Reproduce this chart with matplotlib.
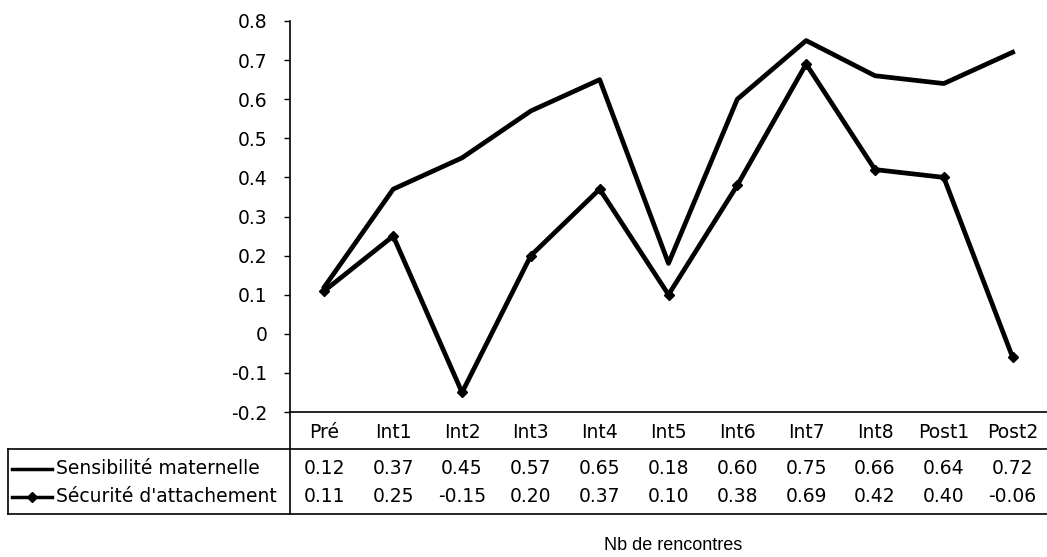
import matplotlib
matplotlib.use("Agg")
import matplotlib.pyplot as plt
from matplotlib.lines import Line2D
from matplotlib.transforms import blended_transform_factory

categories = ["Pré", "Int1", "Int2", "Int3", "Int4", "Int5", "Int6", "Int7", "Int8", "Post1", "Post2"]
sensibilite = [0.12, 0.37, 0.45, 0.57, 0.65, 0.18, 0.60, 0.75, 0.66, 0.64, 0.72]
securite = [0.11, 0.25, -0.15, 0.20, 0.37, 0.10, 0.38, 0.69, 0.42, 0.40, -0.06]
series_names = ["Sensibilité maternelle", "Sécurité d'attachement"]
y_ticks = [-0.2, -0.1, 0, 0.1, 0.2, 0.3, 0.4, 0.5, 0.6, 0.7, 0.8]

W, H = 1047, 557
FS = 13.5
fig = plt.figure(figsize=(W / 100, H / 100), dpi=100)
plt.rcParams['font.family'] = ['DejaVu Sans']


def fx(px):
    return px / W


def fy(py):
    return 1 - py / H


ax = fig.add_axes([fx(290), fy(412), fx(757), (412 - 21) / H])
x = list(range(len(categories)))
ax.plot(x, sensibilite, color='black', lw=3.4)
ax.plot(x, securite, color='black', lw=3.4, marker='D', markersize=5)

ax.set_xlim(-0.5, len(categories) - 0.5)
ax.set_ylim(-0.2, 0.8)
ax.set_yticks(y_ticks)
ax.set_yticklabels(["0" if v == 0 else f"{v:.1f}" for v in y_ticks], fontsize=FS)
ax.tick_params(axis='y', length=4, width=1, direction='out', pad=12)
ax.set_xticks([])
for s in ['top', 'right']:
    ax.spines[s].set_visible(False)
ax.spines['left'].set_linewidth(1.2)
ax.spines['bottom'].set_linewidth(1.2)

# data table under the axes
tr = blended_transform_factory(ax.transData, fig.transFigure)
row_y = [fy(432), fy(469), fy(497)]
for i, c in enumerate(categories):
    fig.text(i, row_y[0], c, transform=tr, ha='center', va='center', fontsize=FS)
    fig.text(i, row_y[1], f"{sensibilite[i]:.2f}", transform=tr, ha='center', va='center', fontsize=FS)
    fig.text(i, row_y[2], f"{securite[i]:.2f}", transform=tr, ha='center', va='center', fontsize=FS)

lines = [
    ([fx(290), fx(290)], [fy(412), fy(514)]),
    ([fx(8), fx(1047)], [fy(449), fy(449)]),
    ([fx(8), fx(1047)], [fy(514), fy(514)]),
    ([fx(8), fx(8)], [fy(449), fy(514)]),
]
for xs, ys in lines:
    fig.add_artist(Line2D(xs, ys, color='black', lw=1.2, transform=fig.transFigure))

# legend keys in the row headers
fig.add_artist(Line2D([fx(12), fx(52)], [row_y[1], row_y[1]], color='black', lw=2.5,
                      transform=fig.transFigure))
fig.add_artist(Line2D([fx(12), fx(52)], [row_y[2], row_y[2]], color='black', lw=2.5,
                      transform=fig.transFigure))
fig.add_artist(Line2D([fx(32)], [row_y[2]], color='black', marker='D', markersize=5,
                      transform=fig.transFigure))
fig.text(fx(56), row_y[1], series_names[0], ha='left', va='center', fontsize=FS)
fig.text(fx(56), row_y[2], series_names[1], ha='left', va='center', fontsize=FS)

fig.text(fx(673), fy(546), "Nb de rencontres", ha='center', va='center', fontsize=13,
         family='Liberation Sans')

fig.savefig("out.png", dpi=100, facecolor='white')
